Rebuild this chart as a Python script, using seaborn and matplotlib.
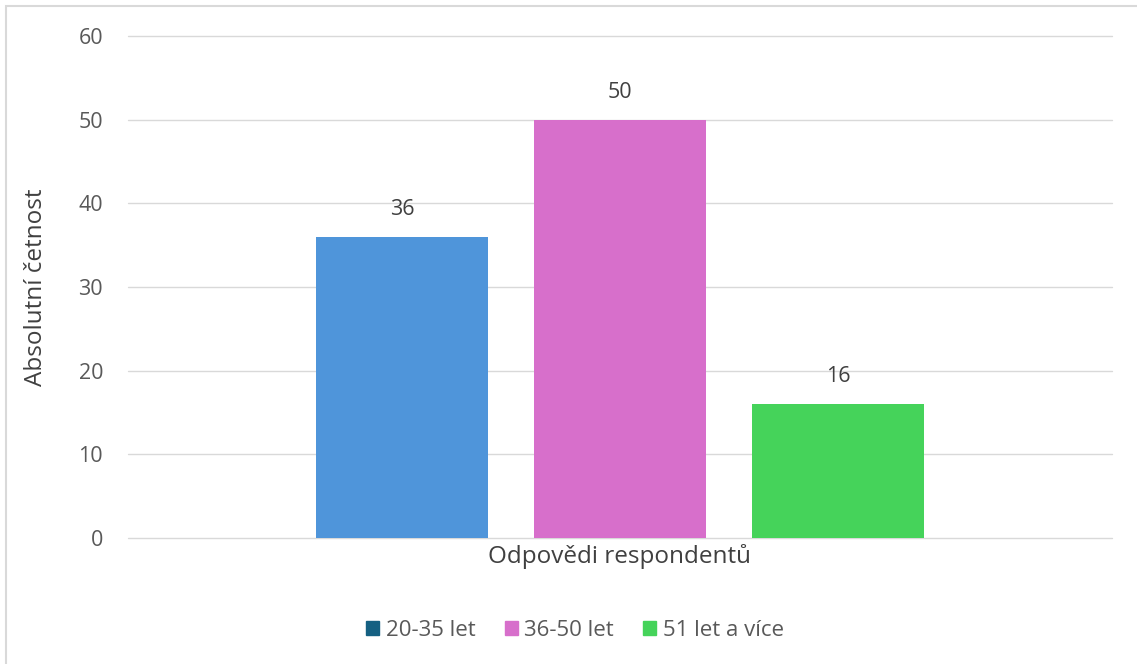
import matplotlib
matplotlib.use("Agg")
import matplotlib.pyplot as plt
import matplotlib.patches as mpatches
import seaborn as sns
import pandas as pd

categories = ["Odpovědi respondentů"]
groups = ["20-35 let", "36-50 let", "51 let a více"]
values = [36, 50, 16]
bar_colors = ["#4F95DA", "#D76FCB", "#45D35A"]
legend_colors = ["#156082", "#D76FCB", "#45D35A"]

sns.set_theme(style="white")
plt.rcParams["font.family"] = ["Open Sans", "DejaVu Sans"]

df = pd.DataFrame({"cat": categories * len(groups), "group": groups, "value": values})

fig = plt.figure(figsize=(11.37, 6.64), dpi=100)
ax = fig.add_axes([128 / 1137, 1 - 538 / 664, (1112 - 128) / 1137, (538 - 36) / 664])

sns.barplot(data=df, x="cat", y="value", hue="group", hue_order=groups,
            palette=bar_colors, width=0.6646, gap=0.21, ax=ax,
            legend=False, saturation=1, edgecolor="none", linewidth=0)

ax.set_xlim(-0.5, 0.5)
ax.set_ylim(0, 60)
ax.set_yticks(range(0, 61, 10))
ax.yaxis.grid(True, color="#D9D9D9", linewidth=1)
for gl in ax.get_ygridlines():
    gl.set_clip_on(False)
ax.set_axisbelow(True)
for s in ax.spines.values():
    s.set_visible(False)
ax.tick_params(axis="y", length=0, pad=18, labelsize=15.5, labelcolor="#595959")
ax.tick_params(axis="x", length=0, pad=4, labelsize=17.5, labelcolor="#404040")
ax.set_xlabel("")
ax.set_ylabel("Absolutní četnost", fontsize=17.5, color="#404040", labelpad=22)

for c in ax.containers:
    ax.bar_label(c, padding=12, fontsize=15.5, color="#404040")

handles = [mpatches.Patch(color=c, label=g) for g, c in zip(groups, legend_colors)]
fig.legend(handles=handles, loc="center", bbox_to_anchor=(575 / 1137, 1 - 630 / 664),
           ncol=3, frameon=False, fontsize=16, handlelength=0.6, handleheight=0.6,
           handletextpad=0.3, columnspacing=1.3, labelcolor="#595959")

border = mpatches.Rectangle((6 / 1137, -0.05), 1.1, 1 - 6 / 664 + 0.05,
                            transform=fig.transFigure, fill=False,
                            edgecolor="#D9D9D9", linewidth=1.5)
fig.patches.append(border)

fig.savefig("out.png", dpi=100)
